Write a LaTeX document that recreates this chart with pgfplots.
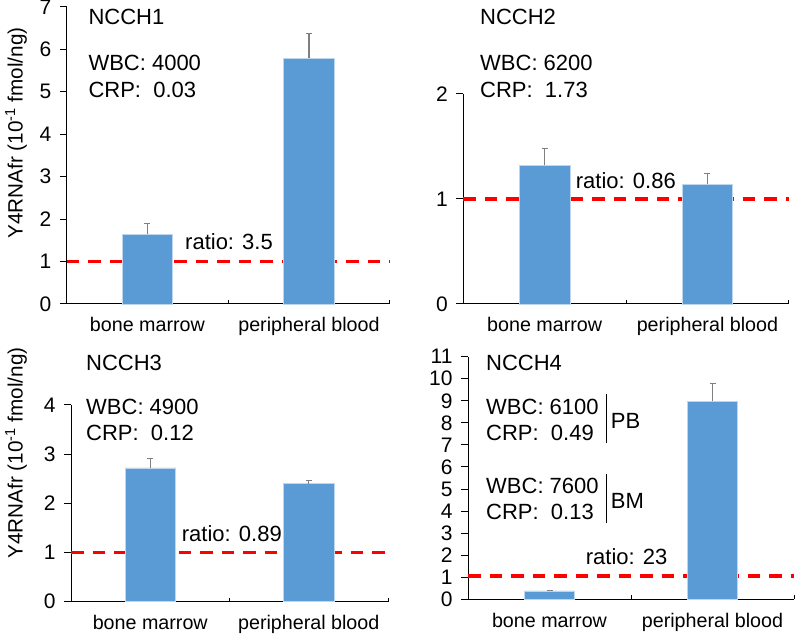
\documentclass[border=0pt]{standalone}
\usepackage{pgfplots}
\pgfplotsset{compat=1.18}
\usepackage{fontspec}
\setmainfont{Liberation Sans}
\definecolor{barblue}{HTML}{5B9BD5}
\definecolor{baredge}{HTML}{BDD7EE}
\definecolor{errgray}{HTML}{7F7F7F}
\newcommand{\ann}{\fontsize{22bp}{26bp}\selectfont}
\pgfplotsset{
  panel/.style={
    scale only axis,
    anchor=south west,
    axis lines=left,
    axis line style={-, line width=1bp, black},
    xmin=-0.5, xmax=1.5, ymin=0,
    xtick={0,1},
    xticklabels={bone marrow, peripheral blood},
    major x tick style={draw=none},
    minor xtick={0.5,1.5},
    minor tick length=4bp,
    minor x tick style={yshift=4bp},
    major tick length=7bp,
    tick align=outside,
    tick style={line width=1bp, black},
    /pgf/number format/assume math mode=true,
    yticklabel style={font=\fontsize{21bp}{21bp}\selectfont, xshift=-5bp},
    xticklabel style={font=\fontsize{19.7bp}{22bp}\selectfont, yshift=-3bp},
    clip=false,
  },
  redline/.style={red, line width=3.3bp, dash pattern=on 12.5bp off 9bp},
  bars/.style={ybar, bar width=50.5bp, fill=barblue, draw=baredge, line width=0.8bp,
    error bars/.cd, y dir=plus, y explicit,
    error bar style={errgray, line width=1.3bp},
    error mark options={errgray, rotate=90, mark size=3bp, line width=1.3bp}},
}
\begin{document}
\begin{tikzpicture}[x=1bp,y=1bp]
\path[use as bounding box] (0,0) rectangle (795,639);
% Panel 1
\begin{axis}[panel, at={(66.7bp,335bp)}, width=323bp, height=297bp, ymax=7, ytick={0,1,...,7}]
\addplot[redline, forget plot] coordinates {(-0.5,1) (1.5,1)};
\addplot[bars] coordinates {(0,1.64) +- (0,0.25) (1,5.79) +- (0,0.59)};
\end{axis}
% Panel 2
\begin{axis}[panel, at={(463.3bp,335bp)}, width=325.5bp, height=210bp, ymax=2, ytick={0,1,2}]
\addplot[redline, forget plot] coordinates {(-0.5,1) (1.5,1)};
\addplot[bars] coordinates {(0,1.32) +- (0,0.16) (1,1.14) +- (0,0.10)};
\end{axis}
% Panel 3
\begin{axis}[panel, at={(71bp,37.3bp)}, width=317bp, height=196.7bp, ymax=4, ytick={0,1,...,4}]
\addplot[redline, forget plot] coordinates {(-0.5,1) (1.5,1)};
\addplot[bars] coordinates {(0,2.72) +- (0,0.19) (1,2.40) +- (0,0.07)};
\end{axis}
% Panel 4
\begin{axis}[panel, at={(468bp,39.7bp)}, width=326bp, height=242.6bp, ymax=11, ytick={0,1,...,11}]
\addplot[redline, forget plot] coordinates {(-0.5,1.05) (1.5,1.05)};
\addplot[bars] coordinates {(0,0.38) +- (0,0.02) (1,8.99) +- (0,0.80)};
\end{axis}
% y labels
\node[rotate=90, font=\fontsize{20.7bp}{24bp}\selectfont] at (16,506) {Y4RNAfr (10\textsuperscript{-1} fmol/ng)};
\node[rotate=90, font=\fontsize{20.7bp}{24bp}\selectfont] at (16,186) {Y4RNAfr (10\textsuperscript{-1} fmol/ng)};
% annotations
\begin{scope}[every node/.style={anchor=base west, inner sep=0pt, font=\ann}]
\node at (88.3,614) {NCCH1};
\node at (88.3,568) {WBC: 4000};
\node at (88.3,541.3) {CRP:\ \ 0.03};
\node at (185,389.7) {ratio: 3.5};
\node at (480,614) {NCCH2};
\node at (480,568) {WBC: 6200};
\node at (480,541.3) {CRP:\ \ 1.73};
\node at (575.7,450.7) {ratio: 0.86};
\node at (86,268) {NCCH3};
\node at (86,224.7) {WBC: 4900};
\node at (86,198.7) {CRP:\ \ 0.12};
\node at (181.7,97.3) {ratio: 0.89};
\node at (486,268) {NCCH4};
\node at (486,224.7) {WBC: 6100};
\node at (486,198.7) {CRP:\ \ 0.49};
\node at (610.7,210.7) {PB};
\node at (486,145) {WBC: 7600};
\node at (486,119) {CRP:\ \ 0.13};
\node at (610.7,130.7) {BM};
\node at (585.7,74) {ratio: 23};
\end{scope}
\draw[line width=1bp] (606.7,245) -- (606.7,196.3);
\draw[line width=1bp] (606.7,165) -- (606.7,116.3);
\end{tikzpicture}
\end{document}
